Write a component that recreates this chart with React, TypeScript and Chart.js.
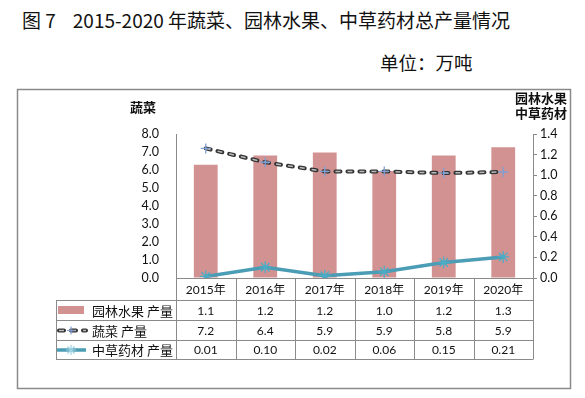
import React, { useEffect, useRef } from "react";
import { Chart, registerables } from "chart.js";

Chart.register(...registerables);

const years = ["2015年", "2016年", "2017年", "2018年", "2019年", "2020年"];
const fruit = [1.1, 1.19, 1.22, 1.04, 1.19, 1.27];
const vegetable = [7.2, 6.43, 5.92, 5.92, 5.83, 5.89];
const herb = [0.015, 0.105, 0.022, 0.06, 0.15, 0.205];
const fruitLabels = ["1.1", "1.2", "1.2", "1.0", "1.2", "1.3"];
const vegetableLabels = ["7.2", "6.4", "5.9", "5.9", "5.8", "5.9"];
const herbLabels = ["0.01", "0.10", "0.02", "0.06", "0.15", "0.21"];
const rowNames = ["园林水果 产量", "蔬菜 产量", "中草药材 产量"];

const FRUIT_COLOR = "#d29292";
const HERB_COLOR = "#4a9db5";
const HERB_MARK = "#4bacc6";
const VEG_MARK = "#7f9fd4";
const LINE = "#8a8a8a";
const NUM_FONT = "Lato, 'Noto Sans CJK SC', sans-serif";
const CJK_FONT = "'Noto Sans CJK SC', sans-serif";

const tablePlugin = {
  id: "tablePlugin",
  afterDraw(chart: any) {
    const ctx = chart.ctx as CanvasRenderingContext2D;
    const x = chart.scales.x;
    const right = x.right;
    const top = x.top;
    const half = (x.getPixelForValue(1) - x.getPixelForValue(0)) / 2;
    const rowY = [300, 320, 340, 359];
    const legendLeft = 56;
    ctx.save();
    ctx.strokeStyle = LINE;
    ctx.lineWidth = 1.5;
    ctx.strokeRect(17.5, 89.5, 553, 299);

    ctx.lineWidth = 1;
    ctx.beginPath();
    for (let i = 0; i <= years.length; i++) {
      const bx = Math.round(x.getPixelForValue(0) - half + i * 2 * half) + 0.5;
      ctx.moveTo(bx, top);
      ctx.lineTo(bx, rowY[3]);
    }
    ctx.moveTo(legendLeft + 0.5, rowY[0]);
    ctx.lineTo(legendLeft + 0.5, rowY[3]);
    for (const ry of rowY) {
      ctx.moveTo(legendLeft, ry + 0.5);
      ctx.lineTo(right + 0.5, ry + 0.5);
    }
    ctx.stroke();

    ctx.fillStyle = "#111";
    ctx.textAlign = "center";
    ctx.textBaseline = "middle";
    ctx.font = `12px ${NUM_FONT}`;
    years.forEach((y, i) => {
      ctx.fillText(y, x.getPixelForValue(i), 290);
    });
    const rows = [fruitLabels, vegetableLabels, herbLabels];
    rows.forEach((vals, r) => {
      const cy = (rowY[r] + rowY[r + 1]) / 2 + 1;
      vals.forEach((v, i) => {
        ctx.fillText(v, x.getPixelForValue(i), cy);
      });
    });

    ctx.textAlign = "left";
    ctx.font = `13px ${CJK_FONT}`;
    rowNames.forEach((name, r) => {
      const cy = (rowY[r] + rowY[r + 1]) / 2 + 1;
      ctx.fillStyle = "#111";
      ctx.fillText(name, 92, cy);
    });
    ctx.fillStyle = FRUIT_COLOR;
    ctx.fillRect(58, 306, 26, 8);
    let cy = 330.5;
    ctx.lineCap = "round";
    ctx.setLineDash([5, 7]);
    ctx.strokeStyle = "#333";
    ctx.lineWidth = 4;
    ctx.beginPath();
    ctx.moveTo(59, cy);
    ctx.lineTo(86, cy);
    ctx.stroke();
    ctx.lineCap = "butt";
    ctx.strokeStyle = "#bbb";
    ctx.lineWidth = 1.5;
    ctx.beginPath();
    ctx.moveTo(59, cy);
    ctx.lineTo(86, cy);
    ctx.stroke();
    ctx.setLineDash([]);
    ctx.strokeStyle = VEG_MARK;
    ctx.lineWidth = 1.2;
    ctx.beginPath();
    ctx.moveTo(71, cy - 4);
    ctx.lineTo(71, cy + 4);
    ctx.moveTo(67, cy);
    ctx.lineTo(75, cy);
    ctx.stroke();
    cy = 350;
    ctx.strokeStyle = HERB_COLOR;
    ctx.lineWidth = 3.5;
    ctx.beginPath();
    ctx.moveTo(57, cy);
    ctx.lineTo(86, cy);
    ctx.stroke();
    ctx.strokeStyle = "#9fd3e3";
    ctx.lineWidth = 1.2;
    ctx.beginPath();
    for (let k = 0; k < 4; k++) {
      const a = (k * Math.PI) / 4;
      ctx.moveTo(71 - 5 * Math.cos(a), cy - 5 * Math.sin(a));
      ctx.lineTo(71 + 5 * Math.cos(a), cy + 5 * Math.sin(a));
    }
    ctx.stroke();

    ctx.fillStyle = "#111";
    ctx.font = `bold 13px ${CJK_FONT}`;
    ctx.textAlign = "left";
    ctx.fillText("蔬菜", 130, 107);
    ctx.textAlign = "right";
    ctx.fillText("园林水果", 567, 98);
    ctx.fillText("中草药材", 567, 113);
    ctx.restore();
  },
};

export default function App() {
  const ref = useRef<HTMLCanvasElement>(null);
  useEffect(() => {
    const chart = new Chart(ref.current!, {
      type: "bar",
      data: {
        labels: years,
        datasets: [
          {
            type: "line",
            label: "蔬菜 产量",
            data: vegetable,
            yAxisID: "yL",
            borderColor: "#bbb",
            borderWidth: 1.5,
            borderDash: [5, 7],
            pointStyle: "cross",
            pointRadius: 5,
            pointBorderColor: VEG_MARK,
            pointBorderWidth: 1.3,
            tension: 0,
            order: 1,
          } as any,
          {
            type: "line",
            label: "蔬菜 产量 outline",
            data: vegetable,
            yAxisID: "yL",
            borderColor: "#333",
            borderWidth: 4,
            borderDash: [5, 7],
            borderCapStyle: "round",
            pointRadius: 0,
            tension: 0,
            order: 2,
          } as any,
          {
            type: "line",
            label: "中草药材 产量",
            data: herb,
            yAxisID: "yR",
            borderColor: HERB_COLOR,
            borderWidth: 3.5,
            pointStyle: "star",
            pointRadius: 6,
            pointBorderColor: HERB_MARK,
            pointBorderWidth: 1.3,
            tension: 0,
            order: 3,
          } as any,
          {
            type: "bar",
            label: "园林水果 产量",
            data: fruit,
            yAxisID: "yR",
            backgroundColor: FRUIT_COLOR,
            categoryPercentage: 1,
            barPercentage: 0.4,
            order: 10,
          } as any,
        ],
      },
      options: {
        animation: false,
        responsive: false,
        maintainAspectRatio: false,
        layout: { padding: { top: 134, left: 0, right: 0, bottom: 0 } },
        plugins: {
          legend: { display: false },
          tooltip: { enabled: false },
          title: { display: false },
        },
        scales: {
          x: {
            grid: { display: false },
            border: { display: true, color: LINE, width: 1 },
            ticks: { display: false },
            afterFit: (a: any) => {
              a.height = 120;
            },
          },
          yL: {
            position: "left",
            min: 0,
            max: 8,
            grid: { display: false },
            border: { display: true, color: LINE, width: 1 },
            ticks: {
              stepSize: 1,
              padding: 9,
              color: "#111",
              font: { family: NUM_FONT, size: 12.5 },
              callback: (v: any) => Number(v).toFixed(1),
            },
            afterFit: (a: any) => {
              a.width = 176;
            },
          },
          yR: {
            position: "right",
            min: 0,
            max: 1.4,
            grid: { drawOnChartArea: false, drawTicks: true, tickLength: 4, color: LINE },
            border: { display: true, color: LINE, width: 1 },
            ticks: {
              stepSize: 0.2,
              padding: 3,
              color: "#111",
              font: { family: NUM_FONT, size: 12.5 },
              callback: (v: any) => Number(v).toFixed(1),
            },
            afterFit: (a: any) => {
              a.width = 52;
            },
          },
        },
      } as any,
      plugins: [tablePlugin],
    });
    return () => chart.destroy();
  }, []);

  return (
    <div style={{ position: "fixed", left: 0, top: 0, width: 585, height: 398, background: "#fff" }}>
      <div
        style={{
          position: "absolute",
          left: 22,
          top: 8,
          whiteSpace: "pre",
          fontFamily: CJK_FONT,
          fontSize: 19,
          lineHeight: "24px",
          color: "#111",
        }}
      >
        {"图 7    2015-2020 年蔬菜、园林水果、中草药材总产量情况"}
      </div>
      <div
        style={{
          position: "absolute",
          left: 380,
          top: 50,
          whiteSpace: "pre",
          fontFamily: CJK_FONT,
          fontSize: 18.5,
          lineHeight: "24px",
          color: "#111",
        }}
      >
        {"单位：万吨"}
      </div>
      <canvas ref={ref} width={585} height={398} style={{ position: "absolute", left: 0, top: 0 }} />
    </div>
  );
}
